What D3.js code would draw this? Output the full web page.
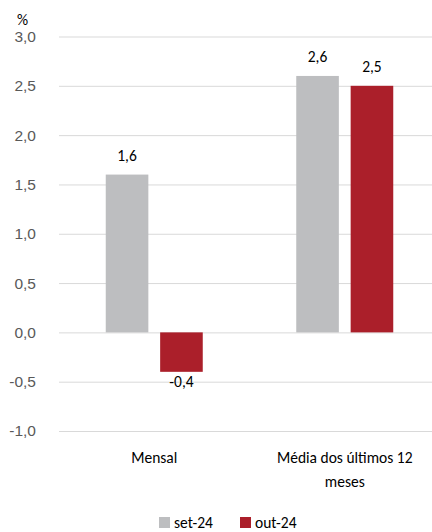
<!DOCTYPE html>
<html>
<head>
<meta charset="utf-8">
<script src="https://cdn.jsdelivr.net/npm/d3@7"></script>
<style>
  html, body { margin: 0; padding: 0; background: #fff; }
  svg { display: block; font-family: Carlito, Lato, "Open Sans", sans-serif; }
</style>
</head>
<body>
<svg id="chart" width="432" height="532"></svg>
<script>
const categories = ["Mensal", "Média dos últimos 12 meses"];
const categoryLines = [["Mensal"], ["Média dos últimos 12", "meses"]];
const seriesNames = ["set-24", "out-24"];
const set24 = [1.6, 2.6];
const out24 = [-0.4, 2.5];
const yTicks = [-1.0, -0.5, 0.0, 0.5, 1.0, 1.5, 2.0, 2.5, 3.0];
const colors = ["#BDBEC0", "#AB1F2A"];

const svg = d3.select("#chart");
const fmt = v => d3.format(".1f")(v).replace(".", ",").replace("−", "-");
const FS = 15.5;

const y = d3.scaleLinear().domain([-1, 3]).range([431, 36.5]);
const x0 = d3.scaleBand().domain(categories).range([59, 440]);
const groupW = 97;
const x1 = d3.scaleBand().domain(seriesNames)
  .range([x0.bandwidth() / 2 - groupW / 2, x0.bandwidth() / 2 + groupW / 2])
  .paddingInner(0.217);

// gridlines + y axis labels
const yAxis = d3.axisLeft(y).tickValues(yTicks).tickFormat(fmt).tickSize(-(432 - 59));
const gy = svg.append("g").attr("transform", "translate(59,0)").call(yAxis);
gy.select(".domain").remove();
gy.selectAll(".tick line").attr("stroke", "#D9D9D9").attr("stroke-width", 1);
gy.selectAll(".tick text").attr("fill", "#595959").attr("font-size", FS).attr("x", -23);

svg.append("text").attr("x", 17).attr("y", 25).attr("font-size", FS).attr("fill", "#000").text("%");

// bars
const data = categories.map((c, i) => ({ cat: c, vals: [set24[i], out24[i]] }));
const groups = svg.append("g").selectAll("g").data(data).join("g")
  .attr("transform", d => `translate(${x0(d.cat)},0)`);
groups.selectAll("rect").data(d => d.vals.map((v, j) => ({ s: seriesNames[j], v, j })))
  .join("rect")
  .attr("x", d => x1(d.s))
  .attr("width", x1.bandwidth())
  .attr("y", d => y(Math.max(0, d.v)))
  .attr("height", d => Math.abs(y(d.v) - y(0)))
  .attr("fill", d => colors[d.j]);

// value labels
groups.selectAll("text.val").data(d => d.vals.map((v, j) => ({ s: seriesNames[j], v, j })))
  .join("text").attr("class", "val")
  .attr("x", d => x1(d.s) + x1.bandwidth() / 2)
  .attr("y", d => d.v >= 0 ? y(d.v) - 14 : y(d.v) + 15)
  .attr("text-anchor", "middle")
  .attr("font-size", FS)
  .attr("fill", "#000")
  .text(d => fmt(d.v));

// category labels
categories.forEach((c, i) => {
  const cx = x0(c) + x0.bandwidth() / 2;
  categoryLines[i].forEach((line, k) => {
    svg.append("text").attr("x", cx).attr("y", 463 + k * 23.5)
      .attr("text-anchor", "middle").attr("font-size", FS).attr("fill", "#000").text(line);
  });
});

// legend
const legendX = [159, 240];
seriesNames.forEach((s, i) => {
  svg.append("rect").attr("x", legendX[i]).attr("y", 517).attr("width", 11).attr("height", 11).attr("fill", colors[i]);
  svg.append("text").attr("x", legendX[i] + 15).attr("y", 528).attr("font-size", FS).attr("fill", "#000").text(s);
});
</script>
</body>
</html>
